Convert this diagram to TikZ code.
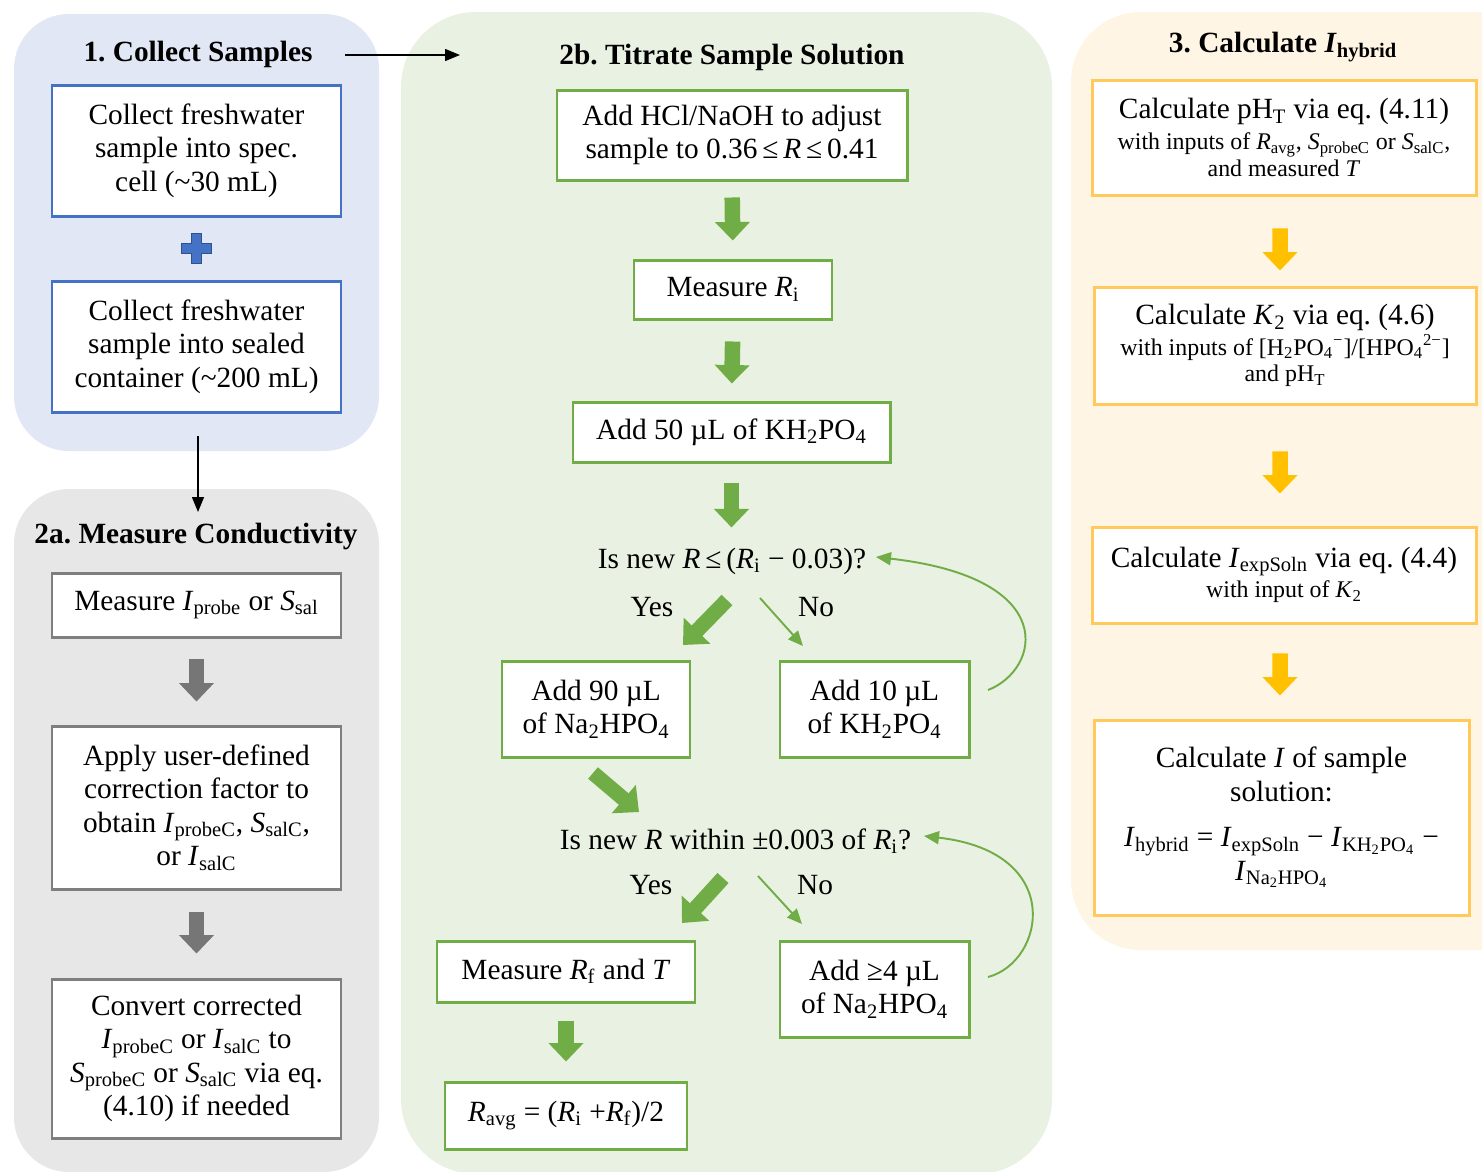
\documentclass[tikz,border=0pt]{standalone}
\usepackage{fontspec}
\setmainfont{Liberation Serif}
\usetikzlibrary{arrows.meta,calc}
\frenchspacing
\definecolor{pblue}{HTML}{E1E7F5}
\definecolor{pgray}{HTML}{E7E7E7}
\definecolor{pgreen}{HTML}{E9F1E2}
\definecolor{pyellow}{HTML}{FFF5E5}
\definecolor{bblue}{HTML}{4472C4}
\definecolor{dblue}{HTML}{2F528F}
\definecolor{bgray}{HTML}{7F7F7F}
\definecolor{bgreen}{HTML}{70AD47}
\definecolor{byellow}{HTML}{FFC95C}
\definecolor{ayellow}{HTML}{FFC000}
\definecolor{agray}{HTML}{767676}
\newcommand{\sbs}[1]{\textsubscript{#1}}
\newcommand{\itx}[1]{\textit{#1}}
\newcommand{\smf}{\fontsize{13.6}{15.5}\selectfont}
\tikzset{
  box/.style={draw, fill=white, line width=1.7pt, align=center, inner sep=0pt},
  sz/.style 2 args={minimum width=#1*0.02cm, minimum height=#2*0.02cm},
  bluebox/.style={box, draw=bblue},
  graybox/.style={box, draw=bgray},
  greenbox/.style={box, draw=bgreen},
  yellowbox/.style={box, draw=byellow},
  head/.style={font=\fontsize{16.7}{19}\selectfont\bfseries, inner sep=0pt},
  lbl/.style={inner sep=0pt},
  blk/.style={line width=0.31cm, -{Triangle[length=0.37cm, width=0.68cm]}},
  gblk/.style={blk, draw=agray, fill=agray},
  grblk/.style={blk, draw=bgreen, fill=bgreen},
  yblk/.style={blk, draw=ayellow, fill=ayellow},
  thinarr/.style={draw=bgreen, line width=1.1pt, -{Triangle[length=0.3cm, width=0.26cm]}},
  conn/.style={draw=black, line width=0.8pt, -{Triangle[length=0.3cm, width=0.24cm]}}
}
\begin{document}
\begin{tikzpicture}[x=0.02cm,y=-0.02cm, font=\fontsize{16.7}{19}\selectfont]
\useasboundingbox (0,0) rectangle (1482,1171);
\fill[white] (0,0) rectangle (1482,1171);
% panels
\fill[pblue, rounded corners=1.1cm] (14,14) rectangle (379,451);
\fill[pgray, rounded corners=1.1cm] (14,489) rectangle (379,1172);
\fill[pgreen, rounded corners=1.5cm] (401,12) rectangle (1052,1174);
\fill[pyellow, rounded corners=1.4cm] (1071,12) rectangle (1560,950);

% panel 1
\node[head] (h1) at (198,54) {1. Collect Samples};
\node[bluebox, sz={289}{131}] (A) at (196.5,150.5) {Collect freshwater\\sample into spec.\\cell (\textasciitilde 30 mL)};
\node[bluebox, sz={289}{131}] (B) at (196.5,346.5) {Collect freshwater\\sample into sealed\\container (\textasciitilde 200 mL)};
\filldraw[fill=bblue, draw=dblue, line width=1pt] (191.5,233.5) -- (201.5,233.5) -- (201.5,243.5) -- (211.5,243.5) -- (211.5,253.5) -- (201.5,253.5) -- (201.5,263.5) -- (191.5,263.5) -- (191.5,253.5) -- (181.5,253.5) -- (181.5,243.5) -- (191.5,243.5) -- cycle;

% panel 2a
\node[head] (h2a) at (196,536) {2a. Measure Conductivity};
\node[graybox, sz={289}{64}] (C) at (196.5,605) {Measure \itx{I}\sbs{probe} or \itx{S}\sbs{sal}};
\node[graybox, sz={289}{163}] (D) at (196.5,807.5) {Apply user-defined\\correction factor to\\obtain \itx{I}\sbs{probeC}, \itx{S}\sbs{salC},\\or \itx{I}\sbs{salC}};
\node[graybox, sz={289}{159}] (E) at (196.5,1058.5) {Convert corrected\\\itx{I}\sbs{probeC} or \itx{I}\sbs{salC} to\\\itx{S}\sbs{probeC} or \itx{S}\sbs{salC} via eq.\\(4.10) if needed};
\draw[gblk, shorten <=0.4cm, shorten >=0.46cm] (C.south) -- (D.north);
\draw[gblk, shorten <=0.42cm, shorten >=0.48cm] (D.south) -- (E.north);

% panel 2b
\node[head] (h2b) at (732,57) {2b. Titrate Sample Solution};
\node[greenbox, sz={350}{90}] (F) at (732,135) {Add HCl/NaOH to adjust\\sample to 0.36\,≤\,\itx{R}\,≤\,0.41};
\node[greenbox, sz={198}{59}] (G) at (733,289.5) {Measure \itx{R}\sbs{i}};
\node[greenbox, sz={317}{60}] (H) at (731.5,432) {Add 50 µL of KH\sbs{2}PO\sbs{4}};
\node[lbl] (Q1) at (732,561) {Is new \itx{R}\,≤\,(\itx{R}\sbs{i} − 0.03)?};
\node[lbl] (y1) at (652,607) {Yes};
\node[lbl] (n1) at (816,607) {No};
\node[greenbox, sz={188}{96}] (I) at (596,709) {Add 90 µL\\of Na\sbs{2}HPO\sbs{4}};
\node[greenbox, sz={189}{96}] (J) at (874.5,709) {Add 10 µL\\of KH\sbs{2}PO\sbs{4}};
\node[lbl] (Q2) at (735.5,841) {Is new \itx{R} within ±0.003 of \itx{R}\sbs{i}?};
\node[lbl] (y2) at (651,885) {Yes};
\node[lbl] (n2) at (815,885) {No};
\node[greenbox, sz={258}{61}] (K) at (566,971.5) {Measure \itx{R}\sbs{f} and \itx{T}};
\node[greenbox, sz={189}{96}] (L) at (874.5,989) {Add ≥4 µL\\of Na\sbs{2}HPO\sbs{4}};
\node[greenbox, sz={242}{67}] (M) at (566,1115.5) {\itx{R}\sbs{avg} = (\itx{R}\sbs{i} +\itx{R}\sbs{f})/2};

\draw[grblk, shorten <=0.32cm, shorten >=0.36cm] (F.south) -- (G.north);
\draw[grblk, shorten <=0.42cm, shorten >=0.34cm] (G.south) -- (H.north);
\draw[grblk] ([yshift=-0.38cm]H.south) -- ([yshift=-1.28cm]H.south);
\draw[grblk, shorten <=0.34cm, shorten >=0.38cm] (K.south) -- (M.north);

\coordinate (y1s) at (727,600); \coordinate (y1e) at (683,645);
\coordinate (n1s) at (760,598); \coordinate (n1e) at (803,646);
\coordinate (i2s) at (593,773); \coordinate (i2e) at (639,812);
\coordinate (y2s) at (723,878); \coordinate (y2e) at (682,923);
\coordinate (n2s) at (758,876); \coordinate (n2e) at (802,924);
\draw[grblk, line width=0.3cm, -{Triangle[length=0.4cm, width=0.72cm]}] (y1s) -- (y1e);
\draw[grblk, line width=0.3cm, -{Triangle[length=0.4cm, width=0.72cm]}] (i2s) -- (i2e);
\draw[grblk, line width=0.3cm, -{Triangle[length=0.4cm, width=0.72cm]}] (y2s) -- (y2e);
\draw[thinarr] (n1s) -- (n1e);
\draw[thinarr] (n2s) -- (n2e);
\coordinate (j1) at (988,690); \coordinate (q1e) at (876,557);
\coordinate (l1) at (988,977); \coordinate (q2e) at (924,836);
\draw[thinarr] (j1) .. controls (1040,670) and (1062,578) .. (q1e);
\draw[thinarr] (l1) .. controls (1045,962) and (1066,852) .. (q2e);

% panel 3
\node[head] (h3) at (1283,47) {3. Calculate \textit{I}\sbs{hybrid}};
\node[yellowbox, sz={384}{115}] (N) at (1284,137.5) {Calculate pH\sbs{T} via eq. (4.11)\\[-1.6pt]{\smf with inputs of \itx{R}\sbs{avg}, \itx{S}\sbs{probeC} or \itx{S}\sbs{salC},}\\[-3.8pt]{\smf and measured \itx{T}}};
\node[yellowbox, sz={382}{117}] (O) at (1285,345.5) {Calculate \itx{K}\sbs{2} via eq. (4.6)\\[-1.6pt]{\smf with inputs of [H\sbs{2}PO\sbs{4}\textsuperscript{−}]/[HPO\sbs{4}\textsuperscript{2−}]}\\[-3.8pt]{\smf and pH\sbs{T}}};
\node[yellowbox, sz={384}{96}] (P) at (1284,575) {Calculate \itx{I}\sbs{expSoln} via eq. (4.4)\\[-1.6pt]{\smf with input of \itx{K}\sbs{2}}};
\node[yellowbox, sz={375}{195}] (Q) at (1281.5,817.5) {Calculate \itx{I} of sample\\solution:\\[7pt]\itx{I}\sbs{hybrid} = \itx{I}\sbs{expSoln} − \itx{I}\sbs{KH\sbs{2}PO\sbs{4}} −\\\itx{I}\sbs{Na\sbs{2}HPO\sbs{4}}};
\draw[yblk, shorten <=0.64cm, shorten >=0.30cm] ([xshift=-0.08cm]N.south) -- ([xshift=-0.1cm]O.north);
\draw[yblk, shorten <=0.92cm, shorten >=0.64cm] ([xshift=-0.1cm]O.south) -- ([xshift=-0.08cm]P.north);
\draw[yblk, shorten <=0.58cm, shorten >=0.46cm] ([xshift=-0.08cm]P.south) -- ([xshift=-0.03cm]Q.north);

% panel connectors
\coordinate (c1s) at (345,55); \coordinate (c1e) at (460,55);
\coordinate (c2s) at (198,436); \coordinate (c2e) at (198,512);
\draw[conn] (c1s) -- (c1e);
\draw[conn] (c2s) -- (c2e);
\end{tikzpicture}
\end{document}
